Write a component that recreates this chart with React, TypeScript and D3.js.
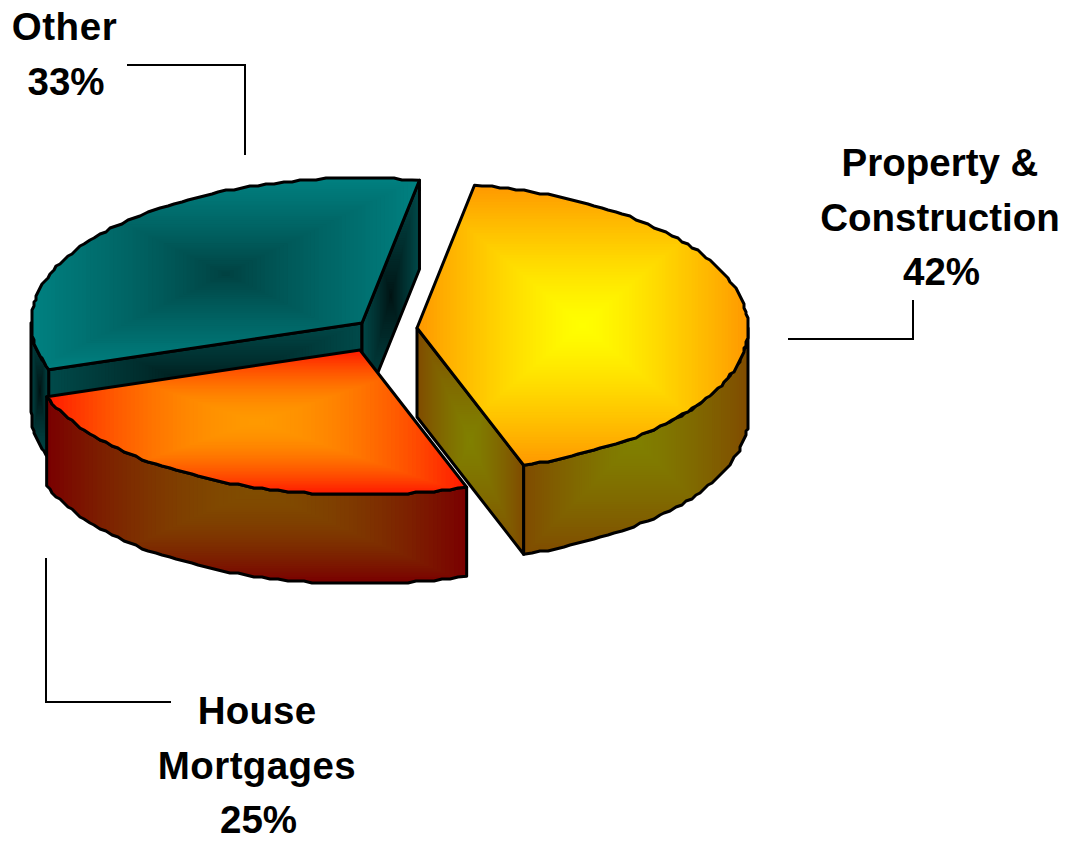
import * as d3 from 'd3'

const categories = ['Property & Construction', 'House Mortgages', 'Other']
const shares = [42, 25, 33]
const labelLines = [['Property &', 'Construction', '42%'], ['House', 'Mortgages', '25%'], ['Other', '33%']]
// the source text is slightly wider on some lines
const lineSpacing = [[0, 0, 0], [0.2, 0.4, 0], [0.6, 0]]

// apex of each exploded slice on the page
const apexes = [[417, 328], [360, 350], [362, 323]]
const labelAnchors = [[940, 176], [257, 724], [64.5, 40]]
const leaders = [
  [[788, 339], [913, 339], [913, 300]],
  [[46, 558], [46, 702], [171, 702]],
  [[127, 65], [245, 65], [245, 155]],
]

// [centre, edge] of the "from centre" fills, and how fast they leave the centre
const topFills = [['#ffff00', '#ff9900'], ['#ff9900', '#ff1a00'], ['#004040', '#008080']]
const sideFills = [['#808000', '#804c00'], ['#804c00', '#7a0000'], ['#001212', '#004a4a']]
const fillCurves = [1.3, 1.8, 0.85]

const RX = 331
const RY = 145
const DEPTH = 89
const STEPS = 50
const GRID = 2 // the outline of the source is a coarse polygon
const rad = Math.PI / 180

const pie = d3.pie<number>().sort(null).startAngle(10 * rad).endAngle(370 * rad)
const line = d3.line().curve(d3.curveLinear)

type Pt = [number, number]

const snap = (v: number) => Math.round(v / GRID) * GRID

function arcPoints(cx: number, cy: number, a0: number, a1: number, dy = 0): Pt[] {
  const n = Math.max(2, Math.ceil((a1 - a0) / (1.5 * rad)))
  return d3.range(n + 1).map(i => {
    const a = a0 + ((a1 - a0) * i) / n
    const x = cx + RX * Math.sin(a)
    const y = cy - RY * Math.cos(a)
    const ends = i === 0 || i === n
    return [ends ? x : snap(x), (ends ? y : snap(y)) + dy] as Pt
  })
}

// nested rectangles make the square gradient PowerPoint uses
function Face({ id, pts, fill, curve }: { id: string; pts: Pt[]; fill: string[]; curve: number }) {
  const [x0, x1] = d3.extent(pts, d => d[0]) as [number, number]
  const [y0, y1] = d3.extent(pts, d => d[1]) as [number, number]
  const color = d3.scalePow<string>().exponent(curve).domain([0, 1]).range(fill).interpolate(d3.interpolateRgb)
  const path = line(pts) + 'Z'
  const w = x1 - x0
  const h = y1 - y0
  return (
    <g>
      <clipPath id={id}>
        <path d={path} />
      </clipPath>
      <g clipPath={`url(#${id})`}>
        {d3.range(STEPS, 0, -1).map(i => {
          const s = i / STEPS
          return (
            <rect
              key={i}
              x={x0 + (w * (1 - s)) / 2}
              y={y0 + (h * (1 - s)) / 2}
              width={w * s}
              height={h * s}
              fill={color(s)}
            />
          )
        })}
      </g>
      <path d={path} fill="none" stroke="#000" strokeWidth={3} strokeLinejoin="round" />
    </g>
  )
}

function Slice({ index, a0, a1 }: { index: number; a0: number; a1: number }) {
  const [cx, cy] = apexes[index]
  const top = arcPoints(cx, cy, a0, a1)
  const topFace: Pt[] = [[cx, cy], ...top]
  const faces: Pt[][] = []

  const cut = (a: number): Pt[] => {
    const p: Pt = [cx + RX * Math.sin(a), cy - RY * Math.cos(a)]
    return [[cx, cy], p, [p[0], p[1] + DEPTH], [cx, cy + DEPTH]]
  }
  // a cut face shows only when it turns towards the viewer
  if (Math.sin(a0) < 0) faces.push(cut(a0))
  if (Math.sin(a1) > 0) faces.push(cut(a1))

  const fa0 = Math.max(a0, 90 * rad)
  const fa1 = Math.min(a1, 270 * rad)
  if (fa1 > fa0) {
    faces.push([...arcPoints(cx, cy, fa0, fa1), ...arcPoints(cx, cy, fa0, fa1, DEPTH).reverse()])
  }

  return (
    <g>
      {faces.map((pts, i) => (
        <Face key={i} id={`side-${index}-${i}`} pts={pts} fill={sideFills[index]} curve={fillCurves[index]} />
      ))}
      <Face id={`top-${index}`} pts={topFace} fill={topFills[index]} curve={fillCurves[index]} />
    </g>
  )
}

export default function App() {
  const arcs = pie(shares)
  // the back slice is painted first
  const order = [2, 1, 0]
  return (
    <svg
      width={1067}
      height={843}
      style={{ position: 'absolute', left: 0, top: 0, background: '#fff' }}
      aria-label={categories.join(', ')}
    >
      {order.map(i => (
        <Slice key={i} index={i} a0={arcs[i].startAngle} a1={arcs[i].endAngle} />
      ))}
      {leaders.map((pts, i) => (
        <path key={i} d={line(pts as Pt[]) as string} fill="none" stroke="#000" strokeWidth={2} />
      ))}
      {labelLines.map((lines, i) => (
        <text
          key={i}
          textAnchor="middle"
          fontFamily="'Liberation Sans', Arial, sans-serif"
          fontWeight="bold"
          fontSize={38.5}
          fill="#000"
        >
          {lines.map((t, j) => (
            <tspan
              key={j}
              x={labelAnchors[i][0] + (t.endsWith('%') ? 1.5 : 0)}
              y={labelAnchors[i][1] + j * 54.5}
              letterSpacing={lineSpacing[i][j]}
            >
              {t}
            </tspan>
          ))}
        </text>
      ))}
    </svg>
  )
}
